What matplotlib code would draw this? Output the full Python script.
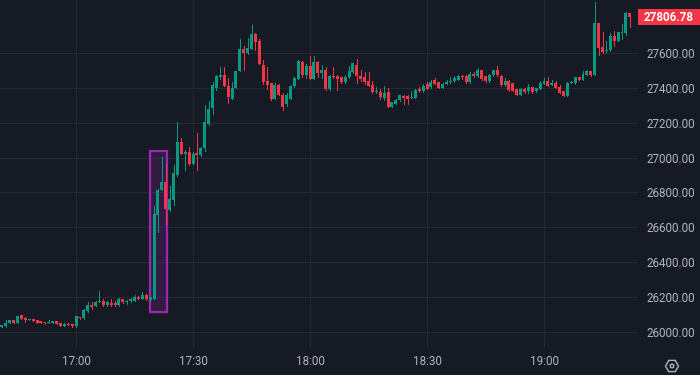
import matplotlib
matplotlib.use("Agg")
import matplotlib.pyplot as plt
import matplotlib.transforms as mtransforms
import numpy as np
from matplotlib.patches import Circle, Rectangle, RegularPolygon


# 1-minute candles, first one at 16:41 (minutes relative to 17:00)
START_MINUTE = -19

opens = [
    26027, 26030, 26050, 26065, 26050, 26093, 26076, 26067, 26070, 26065, 26059, 26053, 26051, 26050,
    26059, 26048, 26032, 26044, 26042, 26030, 26082, 26076, 26116, 26156, 26147, 26170, 26179, 26152,
    26166, 26166, 26152, 26185, 26170, 26175, 26179, 26198, 26190, 26213, 26181, 26190,
    26672, 26816, 26862, 26697, 26758, 26902, 27091, 27022, 27032, 26965, 27028, 27016, 27057, 27195,
    27286, 27401, 27464, 27475, 27412, 27338, 27401, 27498, 27624, 27601, 27625, 27710, 27670, 27533,
    27441, 27429, 27338, 27418, 27361, 27306, 27338, 27410, 27451,
    27550, 27472, 27524, 27451, 27550, 27486, 27505, 27394, 27470, 27470, 27461, 27432, 27461, 27490,
    27533, 27470, 27461, 27438, 27419, 27375, 27375, 27343, 27379, 27290, 27310, 27328, 27356, 27356,
    27343, 27343, 27390, 27381, 27423, 27404, 27444, 27432, 27400, 27425, 27432, 27438, 27448,
    27469, 27467, 27432, 27482, 27467, 27501, 27467, 27438, 27472, 27501, 27470, 27415, 27438, 27429,
    27394, 27362, 27396, 27381, 27406, 27381, 27394, 27425, 27442, 27419, 27429, 27406, 27381, 27356,
    27430, 27427, 27463, 27448, 27476, 27495, 27476, 27773, 27634, 27610, 27615, 27699, 27672, 27718,
    27714, 27829,
]
closes = [
    26038, 26051, 26065, 26050, 26088, 26072, 26065, 26072, 26061, 26050, 26050, 26050, 26055, 26059,
    26044, 26032, 26044, 26038, 26030, 26088, 26080, 26126, 26156, 26139, 26168, 26173, 26152, 26170,
    26152, 26152, 26190, 26168, 26179, 26189, 26198, 26190, 26213, 26185, 26198, 26678,
    26816, 26862, 26707, 26762, 26913, 27091, 27022, 27030, 26965, 27022, 27016, 27057, 27206, 27280,
    27418, 27470, 27475, 27412, 27349, 27401, 27498, 27624, 27601, 27630, 27710, 27665, 27538, 27435,
    27418, 27338, 27418, 27361, 27292, 27361, 27412, 27457, 27556,
    27476, 27524, 27451, 27547, 27486, 27505, 27394, 27470, 27461, 27451, 27432, 27461, 27495, 27543,
    27467, 27451, 27432, 27413, 27375, 27381, 27347, 27371, 27290, 27318, 27333, 27358, 27343, 27339,
    27347, 27390, 27385, 27413, 27396, 27432, 27425, 27400, 27425, 27432, 27442, 27457, 27470,
    27461, 27432, 27482, 27467, 27501, 27453, 27438, 27476, 27501, 27472, 27415, 27438, 27387, 27385,
    27362, 27394, 27377, 27406, 27377, 27400, 27430, 27442, 27413, 27429, 27400, 27371, 27356, 27430,
    27434, 27463, 27448, 27482, 27495, 27476, 27773, 27632, 27606, 27619, 27699, 27667, 27722, 27722,
    27829, 27806.78,
]
highs = [
    26040, 26065, 26066, 26066, 26090, 26094, 26084, 26075, 26072, 26066, 26060, 26054, 26065, 26060,
    26060, 26050, 26048, 26048, 26043, 26090, 26084, 26128, 26170, 26171, 26177, 26232, 26190, 26175,
    26190, 26175, 26192, 26188, 26181, 26191, 26208, 26206, 26230, 26215, 26200, 26724,
    26820, 27005, 26965, 26835, 26955, 27206, 27114, 27045, 27062, 27034, 27143, 27060, 27303, 27326,
    27435, 27475, 27521, 27521, 27458, 27435, 27500, 27682, 27641, 27688, 27762, 27716, 27682, 27561,
    27521, 27431, 27429, 27424, 27372, 27372, 27414, 27460, 27562,
    27552, 27537, 27581, 27585, 27552, 27533, 27518, 27472, 27518, 27472, 27463, 27476, 27524, 27545,
    27566, 27505, 27490, 27490, 27442, 27406, 27396, 27413, 27400, 27320, 27337, 27362, 27358, 27358,
    27381, 27392, 27404, 27423, 27432, 27444, 27457, 27434, 27427, 27448, 27461, 27467, 27472,
    27476, 27476, 27493, 27493, 27516, 27503, 27469, 27478, 27503, 27524, 27472, 27457, 27448, 27431,
    27396, 27400, 27398, 27425, 27408, 27402, 27438, 27457, 27463, 27448, 27438, 27415, 27383, 27436,
    27440, 27465, 27465, 27499, 27503, 27497, 27895, 27775, 27724, 27672, 27714, 27728, 27724, 27768,
    27836, 27832,
]
lows = [
    26025, 26028, 26048, 26048, 26048, 26070, 26055, 26065, 26059, 26048, 26048, 26044, 26050, 26048,
    26042, 26030, 26030, 26036, 26028, 26028, 26074, 26074, 26114, 26128, 26145, 26168, 26150, 26150,
    26150, 26150, 26150, 26166, 26158, 26173, 26177, 26185, 26188, 26183, 26179, 26188,
    26571, 26814, 26621, 26695, 26730, 26892, 27020, 26930, 26959, 26963, 26930, 27010, 27036, 27189,
    27252, 27389, 27452, 27410, 27315, 27336, 27399, 27496, 27504, 27596, 27623, 27619, 27536, 27424,
    27395, 27332, 27336, 27359, 27275, 27294, 27336, 27408, 27449,
    27461, 27457, 27449, 27449, 27461, 27457, 27390, 27390, 27457, 27390, 27430, 27430, 27459, 27488,
    27429, 27438, 27425, 27411, 27373, 27373, 27339, 27333, 27288, 27288, 27305, 27326, 27305, 27305,
    27341, 27341, 27375, 27379, 27394, 27402, 27423, 27398, 27398, 27423, 27430, 27436, 27446,
    27453, 27430, 27430, 27465, 27463, 27448, 27436, 27436, 27470, 27470, 27413, 27413, 27385, 27383,
    27360, 27360, 27371, 27368, 27371, 27375, 27392, 27423, 27411, 27417, 27398, 27369, 27354, 27354,
    27428, 27425, 27446, 27446, 27474, 27470, 27474, 27590, 27600, 27606, 27613, 27638, 27670, 27680,
    27705, 27752,
]

price_ticks = [26000, 26200, 26400, 26600, 26800, 27000, 27200, 27400, 27600]
time_ticks = [0, 30, 60, 90, 120]
time_labels = ["17:00", "17:30", "18:00", "18:30", "19:00"]

BG = "#161a25"
GRID = "#252935"
TEXT = "#b2b5be"
GREEN = "#089981"
RED = "#f23645"
PURPLE = "#9c27b0"
FONT = ["Roboto", "DejaVu Sans"]


def main() -> None:
    plt.rcParams["font.family"] = FONT

    fig = plt.figure(figsize=(7, 3.75), dpi=100)
    fig.patch.set_facecolor(BG)
    ax = fig.add_axes([0, 28 / 375, 638 / 700, 1 - 28 / 375])
    ax.set_facecolor(BG)

    t = np.arange(len(opens)) + START_MINUTE
    o = np.array(opens, dtype=float)
    c = np.array(closes, dtype=float)
    colors = np.where(c >= o, GREEN, RED)

    # crisp, pixel-snapped candles: 1px wicks, 3px bodies
    ax.vlines(t, lows, highs, colors=colors, linewidth=0.72, antialiased=False, zorder=3)
    body = np.maximum(np.abs(c - o), 6)
    ax.bar(t, body, bottom=np.minimum(o, c), width=0.76, color=colors, linewidth=0,
           antialiased=False, zorder=4)

    # highlighted spike (drawn under the candles)
    ax.add_patch(Rectangle((18.9, 26112), 4.3, 927, facecolor=(0.61, 0.15, 0.69, 0.2),
                           edgecolor=PURPLE, linewidth=1.6, zorder=2))

    ax.set_xlim(-19.5, 144.1)
    ax.set_ylim(25912, 27905)

    ax.set_yticks(price_ticks)
    ax.set_yticklabels([f"{p:.2f}" for p in price_ticks])
    ax.set_xticks(time_ticks)
    ax.set_xticklabels(time_labels)
    ax.yaxis.tick_right()
    ax.tick_params(axis="y", length=0, pad=6, labelsize=8.4, labelcolor=TEXT)
    ax.tick_params(axis="x", length=0, pad=6, labelsize=8.4, labelcolor=TEXT)
    ax.grid(True, color=GRID, linewidth=0.8, zorder=0)
    for spine in ax.spines.values():
        spine.set_visible(False)

    # last price tag on the price scale
    last = closes[-1]
    trans = mtransforms.blended_transform_factory(ax.transAxes, ax.transData)
    ax.add_patch(Rectangle((1.0, last - 48), 62 / 638, 97, transform=trans, facecolor=RED,
                           edgecolor="none", clip_on=False, zorder=6))
    ax.text(1.0 + 31 / 638, last, f"{last:.2f}", transform=trans, ha="center", va="center",
            color="white", fontsize=8.4, fontweight="bold", clip_on=False, zorder=7)

    # settings glyph in the corner
    fig.add_artist(RegularPolygon((6.72, 0.09), 6, radius=0.065, orientation=np.pi / 6,
                                  transform=fig.dpi_scale_trans, facecolor="none",
                                  edgecolor=TEXT, linewidth=1.0))
    fig.add_artist(Circle((6.72, 0.09), 0.018, transform=fig.dpi_scale_trans,
                          facecolor="none", edgecolor=TEXT, linewidth=1.0))

    fig.savefig("out.png", dpi=100, facecolor=BG)
    plt.close(fig)


if __name__ == "__main__":
    main()
